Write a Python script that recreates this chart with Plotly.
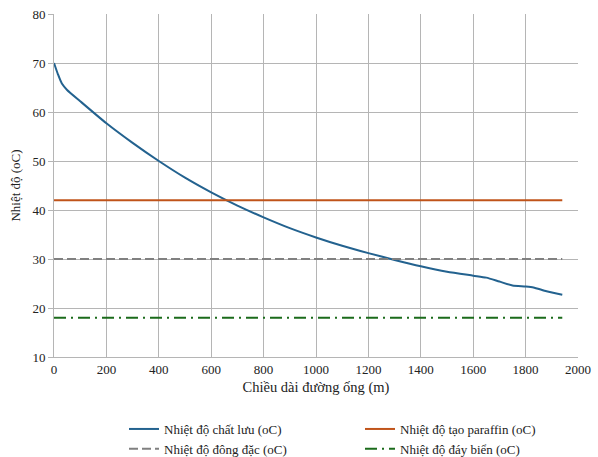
import plotly.graph_objects as go

# Fluid temperature along the pipeline (m, oC)
length_m = [0, 15, 30, 50, 100, 200, 300, 400, 500, 600, 700, 800, 900, 1000,
            1100, 1200, 1300, 1400, 1500, 1600, 1650, 1700, 1750, 1800, 1830, 1880, 1940]
fluid_temp = [70, 67.7, 65.8, 64.5, 62.2, 57.7, 53.7, 50.0, 46.6, 43.6, 40.9, 38.5,
              36.3, 34.4, 32.7, 31.2, 29.8, 28.5, 27.4, 26.6, 26.2, 25.4, 24.6, 24.4,
              24.2, 23.4, 22.7]

# Reference temperatures (oC)
x_span = [0, 1940]
paraffin_temp = 42
pour_temp = 30
seabed_temp = 18

x_ticks = [0, 200, 400, 600, 800, 1000, 1200, 1400, 1600, 1800, 2000]
y_ticks = [10, 20, 30, 40, 50, 60, 70, 80]

FONT = "Liberation Serif"
TXT = "#222"

fig = go.Figure()
fig.add_trace(go.Scatter(x=length_m, y=fluid_temp, mode="lines",
                         line_shape="spline",
                         name="Nhiệt độ chất lưu (oC)", legend="legend",
                         line=dict(color="#23628f", width=2, smoothing=0.6)))
fig.add_trace(go.Scatter(x=x_span, y=[pour_temp] * 2, mode="lines",
                         name="Nhiệt độ đông đặc (oC)", legend="legend",
                         line=dict(color="#808080", width=2, dash="9px,4px")))
fig.add_trace(go.Scatter(x=x_span, y=[paraffin_temp] * 2, mode="lines",
                         name="Nhiệt độ tạo paraffin (oC)", legend="legend2",
                         line=dict(color="#c0541a", width=2)))
fig.add_trace(go.Scatter(x=x_span, y=[seabed_temp] * 2, mode="lines",
                         name="Nhiệt độ đáy biển (oC)", legend="legend2",
                         line=dict(color="#1b6b1b", width=2, dash="12px,5px,2px,5px")))

leg_common = dict(orientation="v", xanchor="left", yanchor="top",
                  yref="container", y=(457 - 414) / 457,
                  font=dict(family=FONT, size=13, color=TXT),
                  bgcolor="rgba(0,0,0,0)", tracegroupgap=0)

fig.update_layout(
    template="none",
    width=598, height=457,
    margin=dict(l=54, r=20, t=14, b=100),
    paper_bgcolor="white", plot_bgcolor="white",
    font=dict(family=FONT, size=13, color=TXT),
    legend=dict(x=(124 - 54) / 524, **leg_common),
    legend2=dict(x=(360 - 54) / 524, **leg_common),
    xaxis=dict(range=[0, 2000], tickvals=x_ticks, showgrid=True, gridcolor="#b5b5b5",
               gridwidth=1, showline=True, linecolor="#b5b5b5", linewidth=1,
               zeroline=False, ticks="", tickfont=dict(family=FONT, size=13, color=TXT),
               title=dict(text="Chiều dài đường ống (m)", standoff=6,
                          font=dict(family=FONT, size=14.5, color=TXT))),
    yaxis=dict(range=[10, 80], tickvals=y_ticks, showgrid=True, gridcolor="#b5b5b5",
               gridwidth=1, showline=True, linecolor="#b5b5b5", linewidth=1,
               zeroline=False, ticks="outside", ticklen=5, tickcolor="#b5b5b5",
               tickfont=dict(family=FONT, size=13, color=TXT),
               title=dict(text="Nhiệt độ (oC)", standoff=8,
                          font=dict(family=FONT, size=13, color=TXT))),
)

fig.write_html("out.html")
